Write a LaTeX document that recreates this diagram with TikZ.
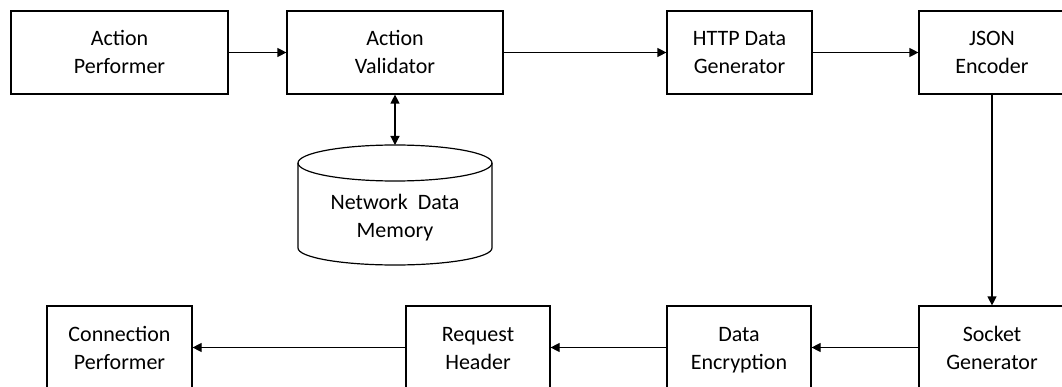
\documentclass[tikz,border=0pt]{standalone}
\usepackage{fontspec}
\setmainfont{Carlito}
\usetikzlibrary{arrows.meta}
% line strut: 21pt above the baseline, 6pt below
\newcommand\lnstrut{\rule[-6pt]{0pt}{27pt}}
\begin{document}
\begin{tikzpicture}[x=1pt,y=-1pt,
  line width=1.2pt,
  block/.style={draw, line width=1.2pt, minimum height=83pt, inner sep=0pt,
                align=center, font=\fontsize{22}{26.7}\selectfont},
  label/.style={align=center, inner sep=0pt, font=\fontsize{22}{26.7}\selectfont},
  flow/.style={-{Triangle[length=9pt,width=9pt]}},
  both/.style={{Triangle[length=9pt,width=9pt]}-{Triangle[length=9pt,width=9pt]}}]
  \useasboundingbox (0,0) rectangle (1062,387);
  \clip (0,0) rectangle (1062,387);
  \fill[white] (0,0) rectangle (1062,387);

  % upper row
  \node[block, minimum width=217pt] (perf) at (119.5,52.5) {\lnstrut Action\\\lnstrut Performer};
  \node[block, minimum width=216pt] (valid) at (395,52.5) {\lnstrut Action\\\lnstrut Validator};
  \node[block, minimum width=145pt] (http) at (739.5,52.5) {\lnstrut HTTP Data\\\lnstrut Generator};
  \node[block, minimum width=146pt] (json) at (992,52.5) {\lnstrut JSON\\\lnstrut Encoder};

  % lower row
  \node[block, minimum width=146pt] (sock) at (992,347.5) {\lnstrut Socket\\\lnstrut Generator};
  \node[block, minimum width=144pt] (enc) at (739,347.5) {\lnstrut Data\\\lnstrut Encryption};
  \node[block, minimum width=144pt] (req) at (478,347.5) {\lnstrut Request\\\lnstrut Header};
  \node[block, minimum width=145pt] (conn) at (119.5,347.5) {\lnstrut Connection\\\lnstrut Performer};

  % storage cylinder
  \draw (395,163) ellipse[x radius=97, y radius=18];
  \draw (298,163) -- (298,248)
        arc[start angle=180, end angle=0, x radius=97, y radius=17]
        -- (492,163);
  \coordinate (memtop) at (395,145);
  \node[label] (mem) at (395,216) {\lnstrut Network\ \ Data\\\lnstrut Memory};

  % connectors
  \draw[flow] (perf.east) -- (valid.west);
  \draw[flow] (valid.east) -- (http.west);
  \draw[flow] (http.east) -- (json.west);
  \draw[flow] (json.south) -- (sock.north);
  \draw[flow] (sock.west) -- (enc.east);
  \draw[flow] (enc.west) -- (req.east);
  \draw[flow] (req.west) -- (conn.east);
  \draw[both] (valid.south) -- (memtop);
\end{tikzpicture}
\end{document}
